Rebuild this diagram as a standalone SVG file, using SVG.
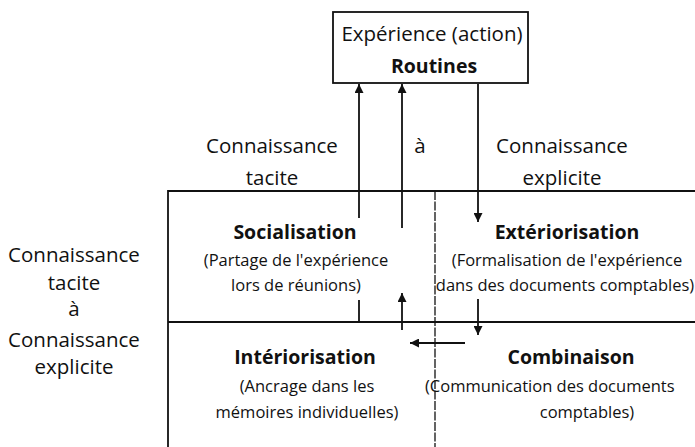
<svg xmlns="http://www.w3.org/2000/svg" width="695" height="447" viewBox="0 0 695 447">
<style>
text{font-family:"Open Sans","Noto Sans","Liberation Sans",sans-serif;fill:#111;text-anchor:middle}
.l{font-size:20.5px}
.b{font-size:19.5px;font-weight:bold}
.s{font-size:16.5px}
.ln{stroke:#111;stroke-width:1.8;fill:none}
.dash{stroke:#111;stroke-width:1.3;fill:none;stroke-dasharray:9 1.5}
</style>
<defs>
<marker id="ahb" viewBox="0 0 10 10" refX="10" refY="5" markerWidth="14" markerHeight="9" markerUnits="userSpaceOnUse" orient="auto"><path d="M0,0 L10,5 L0,10 z" fill="#111"/></marker>
</defs>
<rect width="695" height="447" fill="#fff"/>
<g id="grid">
<line class="ln" x1="168" y1="191" x2="695" y2="191"/>
<line class="ln" x1="168" y1="322" x2="695" y2="322"/>
<line class="ln" x1="168" y1="190" x2="168" y2="447"/>
<line class="dash" x1="435" y1="191" x2="435" y2="447"/>
</g>
<g id="experience">
<rect x="333" y="12" width="195" height="71" fill="#fff" class="ln"/>
<text class="l" x="432" y="41">Expérience (action)</text>
<text class="b" x="434" y="73">Routines</text>
</g>
<g id="labels-top">
<text class="l" x="272" y="153">Connaissance</text>
<text class="l" x="272" y="185">tacite</text>
<text class="l" x="420" y="153">à</text>
<text class="l" x="562" y="153">Connaissance</text>
<text class="l" x="562" y="185">explicite</text>
</g>
<g id="labels-left">
<text class="l" x="74" y="262">Connaissance</text>
<text class="l" x="74" y="290">tacite</text>
<text class="l" x="74" y="316">à</text>
<text class="l" x="74" y="347">Connaissance</text>
<text class="l" x="74" y="374">explicite</text>
</g>
<g id="socialisation">
<text class="b" x="295" y="239">Socialisation</text>
<text class="s" x="296" y="266">(Partage de l'expérience</text>
<text class="s" x="296" y="291">lors de réunions)</text>
</g>
<g id="exteriorisation">
<text class="b" x="567" y="239">Extériorisation</text>
<text class="s" x="567" y="266">(Formalisation de l'expérience</text>
<text class="s" x="565" y="291">dans des documents comptables)</text>
</g>
<g id="interiorisation">
<text class="b" x="305" y="364">Intériorisation</text>
<text class="s" x="307" y="392">(Ancrage dans les</text>
<text class="s" x="307" y="418">mémoires individuelles)</text>
</g>
<g id="combinaison">
<text class="b" x="571" y="364">Combinaison</text>
<text class="s" x="425" y="392" style="text-anchor:start">(Communication des documents</text>
<text class="s" x="587" y="418">comptables)</text>
</g>
<g id="connectors">
<line class="ln" x1="359" y1="218" x2="359" y2="84" marker-end="url(#ahb)"/>
<line class="ln" x1="359" y1="300" x2="359" y2="322"/>
<line class="ln" x1="402" y1="228" x2="402" y2="84" marker-end="url(#ahb)"/>
<line class="ln" x1="402" y1="330" x2="402" y2="293" marker-end="url(#ahb)"/>
<line class="ln" x1="478" y1="84" x2="478" y2="222" marker-end="url(#ahb)"/>
<line class="ln" x1="478" y1="299" x2="478" y2="335" marker-end="url(#ahb)"/>
<line class="ln" x1="465" y1="343" x2="410" y2="343" marker-end="url(#ahb)"/>
</g>
</svg>
